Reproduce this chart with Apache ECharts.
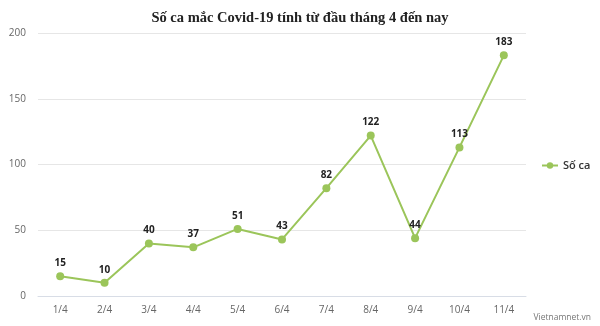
<!DOCTYPE html>
<html><head><meta charset="utf-8">
<script src="https://cdn.jsdelivr.net/npm/echarts@6/dist/echarts.min.js"></script>
<style>html,body{margin:0;padding:0;background:#fff}#c{width:600px;height:326px}</style>
</head><body><div id="c"></div>
<script>
const title = 'Số ca mắc Covid-19 tính từ đầu tháng 4 đến nay';
const categories = ['1/4','2/4','3/4','4/4','5/4','6/4','7/4','8/4','9/4','10/4','11/4'];
const seriesName = 'Số ca';
const values = [15,10,40,37,51,43,82,122,44,113,183];
const yTicks = [0,50,100,150,200];
const watermark = 'Vietnamnet.vn';

const chart = echarts.init(document.getElementById('c'));
chart.setOption({
  animation:false,
  title:{text:title,left:'center',top:6,textStyle:{fontFamily:'Liberation Serif',fontSize:14.5,fontWeight:'bold',color:'#222'}},
  graphic:[{type:'text',right:9,bottom:4,style:{text:watermark,fontFamily:'Open Sans',fontSize:8.5,fill:'#777'}}],
  legend:{orient:'vertical',left:536,top:155,itemWidth:16,itemHeight:8,itemGap:5,
    textStyle:{fontFamily:'Open Sans',fontSize:11,fontWeight:600,color:'#333'},data:[seriesName]},
  grid:{left:38,right:74,top:33,bottom:30,containLabel:false},
  xAxis:{type:'category',data:categories,boundaryGap:true,
    axisLine:{lineStyle:{color:'#d8dde6',width:1}},axisTick:{show:false},
    axisLabel:{color:'#666',fontFamily:'Open Sans',fontSize:10,margin:9}},
  yAxis:{type:'value',min:yTicks[0],max:yTicks[yTicks.length-1],interval:50,
    axisLine:{show:false},axisTick:{show:false},
    splitLine:{lineStyle:{color:'#e6e6e6'}},
    axisLabel:{color:'#666',fontFamily:'Open Sans',fontSize:10,margin:12}},
  series:[{name:seriesName,type:'line',data:values,symbol:'circle',symbolSize:8,
    itemStyle:{color:'#9bc55a'},lineStyle:{color:'#9bc55a',width:2},
    label:{show:true,position:'top',distance:4,color:'#222',fontFamily:'Open Sans',fontSize:10,fontWeight:'bold'}}]
});
</script></body></html>
